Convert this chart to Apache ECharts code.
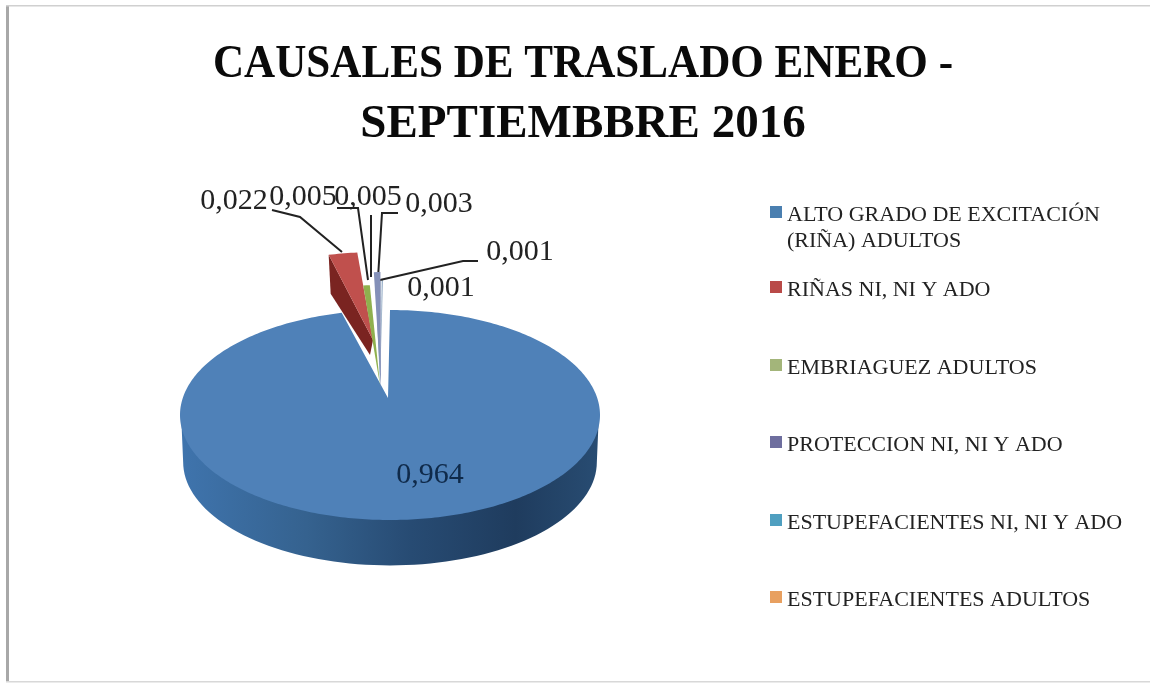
<!DOCTYPE html>
<html><head><meta charset="utf-8">
<style>html,body{margin:0;padding:0;background:#fff}#c{width:1150px;height:684px;filter:blur(.6px)}</style>
<script src="https://cdn.jsdelivr.net/npm/echarts@6/dist/echarts.min.js"></script>
</head><body><div id="c"></div>
<script>
const titleLines = ["CAUSALES DE TRASLADO ENERO -","SEPTIEMBBRE 2016"];
const categories = ["ALTO GRADO DE EXCITACIÓN (RIÑA) ADULTOS","RIÑAS NI, NI Y ADO","EMBRIAGUEZ ADULTOS","PROTECCION NI, NI Y ADO","ESTUPEFACIENTES NI, NI Y ADO","ESTUPEFACIENTES ADULTOS","OTROS"];
const values = [0.964,0.022,0.005,0.005,0.003,0.001,0.001];
const legendCount = 6;
const colors = ["#4f81b8","#c0504d","#8fb04e","#8490b8","#7fa8c0","#a0b0c0","#9ab0c8"];
const legendColors = ["#4a7fb0","#b94a48","#a3b57a","#6e6e9e","#4f9fc0","#e8a060"];
const wallColors = [null,"#7a2421",null,null,null,null,null];
// layout
const P = {cx:390, cy:415, rx:210, ry:105, ax:388, ay:398, depth:47};
const legendTops = [178,279,357,434,512,589];
const rimShift = [[0,0],[-13,-58],[-7,-25],[-3,-38],[-8,-32],[-8,-30],[-7,-30]];
const apexShift = [[0,0],[-15,-58],[-8,-13],[-7,-8],[-8,-13],[-8,-14],[-8,-14]];
const labelPos = [[430,475],[234,201],[303,197],[368,197],[439,204],[520,252],[441,288]];
const leaders = [
  null,
  [[272,210],[300,217],[342,252]],
  [[337,208],[358,208],[368,280]],
  [[371,215],[371,277]],
  [[398,213],[382,213],[378,278]],
  [[478,261],[463,261],[380,280]],
  null
];
const zOrder = [1,5,6,4,3,3,3];
const total = values.reduce((a,b)=>a+b,0);
const starts = []; { let s=0; values.forEach(v=>{starts.push(s); s+=v/total*Math.PI*2;}); }
function rimPt(a,dx,dy,k){k=k||1;return [P.cx+dx+P.rx*k*Math.sin(a), P.cy+dy-P.ry*k*Math.cos(a)];}
function fmt(v){return v.toFixed(3).replace('.',',');}
function renderSlice(i){
  return function(){
    const a0=starts[i], a1=a0+values[i]/total*Math.PI*2;
    const [rx,ry]=rimShift[i], [ax,ay]=apexShift[i];
    const n=Math.max(2,Math.ceil((a1-a0)*60));
    const top=[[P.ax+ax,P.ay+ay]];
    for(let k=0;k<=n;k++) top.push(rimPt(a0+(a1-a0)*k/n,rx,ry));
    const ch=[];
    if(i===0){
      const w=[];
      for(let k=0;k<=80;k++){const a=Math.PI/2+Math.PI*k/80; w.push(rimPt(a,0,-2,0.995));}
      for(let k=80;k>=0;k--){const a=Math.PI/2+Math.PI*k/80; const p=rimPt(a,0,P.depth,0.985); w.push(p);}
      ch.push({type:'polygon',shape:{points:w},style:{fill:new echarts.graphic.LinearGradient(0,0,1,0,[
        {offset:0,color:'#3f74ad'},{offset:.3,color:'#35628f'},{offset:.55,color:'#274b73'},{offset:.8,color:'#1f3c5e'},{offset:1,color:'#284c72'}])}});
    }
    if(wallColors[i]){
      const e=top[1], m=[P.ax+ax,P.ay+ay];
      ch.push({type:'polygon',shape:{points:[e,[e[0]+2,e[1]+P.depth-8],[m[0]-3,m[1]+15],m]},style:{fill:wallColors[i]}});
    }
    ch.push({type:'polygon',shape:{points:top},style:{fill:colors[i]}});
    if(leaders[i]) ch.push({type:'polyline',shape:{points:leaders[i]},style:{stroke:'#222',lineWidth:2,fill:'none'},z2:10});
    ch.push({type:'text',z2:20,style:{text:fmt(values[i]),x:labelPos[i][0],y:labelPos[i][1],font:'30px "Liberation Serif"',fill:i===0?'#0f2a4a':'#222',textAlign:'center',textVerticalAlign:'middle'}});
    return {type:'group',children:ch};
  };
}
const series = categories.map((name,i)=>({
  type:'custom',name,coordinateSystem:'none',z:zOrder[i],silent:true,animation:false,
  itemStyle:{color:i<legendColors.length?legendColors[i]:colors[i]},
  data:[values[i]],renderItem:renderSlice(i)
}));
const legends = categories.slice(0,legendCount).map((name,i)=>({
  left:770,top:legendTops[i],orient:'vertical',itemWidth:12,itemHeight:12,selectedMode:false,icon:'rect',
  data:[name],padding:0,
  formatter:n=>{const p=n.split(' (RIÑA) ');return p.length>1?'{t|}\n{t|'+p[0]+'}\n{t|(RIÑA) '+p[1]+'}':'{t|'+n+'}';},
  textStyle:{rich:{t:{fontFamily:'"Liberation Serif"',fontSize:22,color:'#222',height:20,padding:[6,0,0,0]}}}
}));
const chart = echarts.init(document.getElementById('c'),null,{renderer:'canvas'});
chart.setOption({
  animation:false,backgroundColor:'#fff',
  legend:legends,
  graphic:[
    {type:'rect',shape:{x:6,y:5,width:3,height:677},style:{fill:'#a8a8a8'},silent:true},
    {type:'rect',shape:{x:6,y:5,width:1144,height:1.5},style:{fill:'#d0d0d0'},silent:true},
    {type:'rect',shape:{x:6,y:681,width:1144,height:1.5},style:{fill:'#d8d8d8'},silent:true},
    {type:'text',x:583,y:65,scaleX:.917,silent:true,style:{text:titleLines[0],x:0,y:0,textAlign:'center',textVerticalAlign:'middle',font:'bold 47px "Liberation Serif"',fill:'#0a0a0a'}},
    {type:'text',x:583,y:125,silent:true,style:{text:titleLines[1],x:0,y:0,textAlign:'center',textVerticalAlign:'middle',font:'bold 47px "Liberation Serif"',fill:'#0a0a0a'}}
  ],
  series
});
</script></body></html>
